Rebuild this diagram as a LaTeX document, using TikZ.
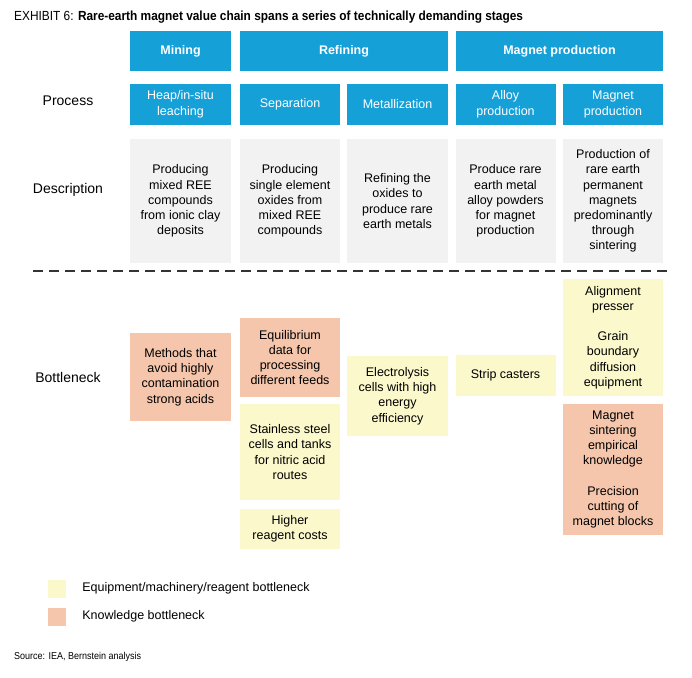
\documentclass[tikz,border=0pt]{standalone}
\usepackage{fontspec}
\setmainfont{Liberation Sans}
\newfontfamily\titlefont[FakeStretch=0.90]{Liberation Sans}
\usetikzlibrary{positioning}
\definecolor{stageBlue}{HTML}{16A0D8}
\definecolor{descGray}{HTML}{F2F2F2}
\definecolor{equipYellow}{HTML}{FBF8CB}
\definecolor{knowOrange}{HTML}{F5C6AC}

\begin{document}
\begin{tikzpicture}[x=1pt,y=-1pt]

    \tikzstyle{commonNode}=[align=center, inner sep=0pt, minimum width=101pt, font=\fontsize{12.5}{15.2}\selectfont]
    \tikzstyle{stage}=[commonNode, fill=stageBlue, text=white, minimum height=40pt, font=\bfseries\fontsize{12.5}{15.2}\selectfont]
    \tikzstyle{process}=[commonNode, fill=stageBlue, text=white, minimum height=41pt, font=\fontsize{12.5}{16}\selectfont]
    \tikzstyle{desc}=[commonNode, fill=descGray, minimum height=124pt]
    \tikzstyle{equip}=[commonNode, fill=equipYellow]
    \tikzstyle{know}=[commonNode, fill=knowOrange]
    \tikzstyle{rowLabel}=[font=\fontsize{14}{16}\selectfont]
    \tikzstyle{legendBox}=[inner sep=0pt, minimum size=18pt]

    \useasboundingbox (0,0) rectangle (692,677);

    % Title
    \node at (14,17) [anchor=west, inner sep=0pt] (title)
        {\titlefont\fontsize{13.2}{15}\selectfont EXHIBIT 6: \textbf{Rare-earth magnet value chain spans a series of technically demanding stages}};

    % Stages
    \node at (180.5,51) [stage]                   (mining)   {Mining};
    \node at (344,51)   [stage, minimum width=208pt] (refining) {Refining};
    \node at (559.5,51) [stage, minimum width=207pt] (magnet)   {Magnet production};

    % Process
    \node at (68,101)   [rowLabel] (processLbl) {Process};
    \node at (180.5,104.5) [process] (heap)   {Heap/in-situ\\leaching};
    \node at (290,104.5)   [process, minimum width=100pt] (sep)    {Separation};
    \node at (397.5,104.5) [process] (metal)  {Metallization};
    \node at (505.5,104.5) [process, minimum width=100pt] (alloy)  {Alloy\\production};
    \node at (613,104.5)   [process, minimum width=100pt] (magprod) {Magnet\\production};

    % Description
    \node at (68,190)   [rowLabel] (descLbl) {Description};
    \node at (180.5,201) [desc] (heapD)   {Producing\\mixed REE\\compounds\\from ionic clay\\deposits};
    \node at (290,201)   [desc, minimum width=100pt] (sepD)    {Producing\\single element\\oxides from\\mixed REE\\compounds};
    \node at (397.5,201) [desc] (metalD)  {Refining the\\oxides to\\produce rare\\earth metals};
    \node at (505.5,201) [desc, minimum width=100pt] (alloyD)  {Produce rare\\earth metal\\alloy powders\\for magnet\\production};
    \node at (613,201)   [desc, minimum width=100pt] (magprodD) {Production of\\rare earth\\permanent\\magnets\\predominantly\\through\\sintering};

    % Divider
    \coordinate (divL) at (33,271);
    \coordinate (divR) at (673,271);
    \draw [black!80, line width=1.4pt, dash pattern=on 10pt off 6pt] (divL) -- (divR);

    % Bottleneck
    \node at (68,377)   [rowLabel] (bottleLbl) {Bottleneck};
    \node at (180.5,377) [know, minimum height=88pt] (methods) {Methods that\\avoid highly\\contamination\\strong acids};
    \node at (290,357.5) [know, minimum width=100pt, minimum height=79pt] (equil) {Equilibrium\\data for\\processing\\different feeds};
    \node at (290,452)   [equip, minimum width=100pt, minimum height=96pt] (steel) {Stainless steel\\cells and tanks\\for nitric acid\\routes};
    \node at (290,529)   [equip, minimum width=100pt, minimum height=40pt] (reagent) {Higher\\reagent costs};
    \node at (397.5,396) [equip, minimum height=80pt] (electro) {Electrolysis\\cells with high\\energy\\efficiency};
    \node at (505.5,375.5) [equip, minimum width=100pt, minimum height=41pt] (strip) {Strip casters};
    \node at (613,337.5) [equip, minimum width=100pt, minimum height=117pt] (align) {Alignment\\presser\\[15.2pt]Grain\\boundary\\diffusion\\equipment};
    \node at (613,469.5) [know, minimum width=100pt, minimum height=131pt] (sinter) {Magnet\\sintering\\empirical\\knowledge\\[15.2pt]Precision\\cutting of\\magnet blocks};

    % Legend
    \node at (57,588.5) [legendBox, fill=equipYellow] (legEquip) {};
    \node at (57,616.5) [legendBox, fill=knowOrange]  (legKnow)  {};
    \node [right=16pt of legEquip, font=\fontsize{12.5}{15}\selectfont, inner sep=0pt] (legEquipTxt) {Equipment/machinery/reagent bottleneck};
    \node [right=16pt of legKnow, font=\fontsize{12.5}{15}\selectfont, inner sep=0pt] (legKnowTxt) {Knowledge bottleneck};

    % Source
    \node at (14,657) [anchor=west, inner sep=0pt, font=\titlefont\fontsize{10}{12}\selectfont] (source) {Source: IEA, Bernstein analysis};

\end{tikzpicture}
\end{document}
